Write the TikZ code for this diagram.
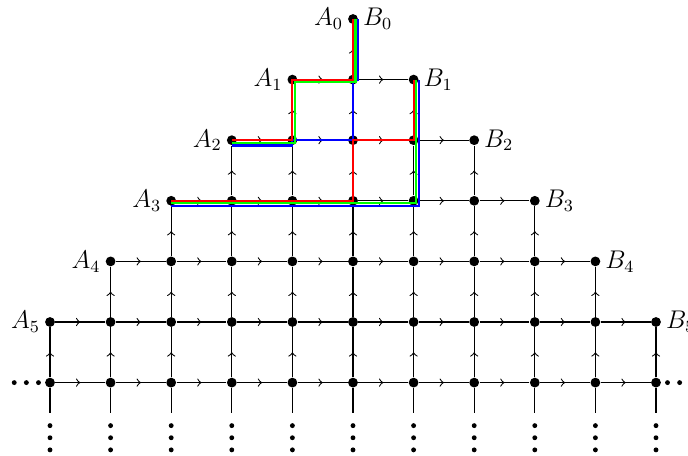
\documentclass[tikz,border=0pt]{standalone}
\usetikzlibrary{decorations.markings}
\begin{document}
\begin{tikzpicture}[
  midarrow/.style={postaction={decorate},decoration={markings,mark=at position 0.5 with {\arrow{>}}}},
  gridline/.style={line width=0.5pt},
  vdot/.style={circle,fill=black,inner sep=0pt,minimum size=4.6pt},
  sdot/.style={circle,fill=black,inner sep=0pt,minimum size=2.3pt},
  cpath/.style={line width=1pt,line join=miter},
  lab/.style={inner sep=0.2em,font=\large},
]
\useasboundingbox (-0.825,0.3135) rectangle (10.528,-7.195);
% vertices
\foreach \k in {0,...,5} {
  \pgfmathtruncatemacro\lo{5-\k}
  \pgfmathtruncatemacro\hi{5+\k}
  \foreach \i in {\lo,...,\hi} { \node[vdot] (v\i-\k) at (\i,-\k) {}; }
  \node[lab,anchor=east] (A\k) at (v\lo-\k.west) {$A_{\k}$};
  \node[lab,anchor=west] (B\k) at (v\hi-\k.east) {$B_{\k}$};
}
\foreach \i in {0,...,10} { \node[vdot] (v\i-6) at (\i,-6) {}; }
% horizontal edges
\foreach \k in {1,...,5} {
  \pgfmathtruncatemacro\lo{5-\k}
  \pgfmathtruncatemacro\hi{4+\k}
  \foreach \i in {\lo,...,\hi} {
    \pgfmathtruncatemacro\j{\i+1}
    \draw[gridline,midarrow] (v\i-\k) -- (v\j-\k);
  }
}
\foreach \i in {0,...,9} {
  \pgfmathtruncatemacro\j{\i+1}
  \draw[gridline,midarrow] (v\i-6) -- (v\j-6);
}
% vertical edges
\foreach \k in {0,...,5} {
  \pgfmathtruncatemacro\lo{5-\k}
  \pgfmathtruncatemacro\hi{5+\k}
  \pgfmathtruncatemacro\kk{\k+1}
  \foreach \i in {\lo,...,\hi} {
    \draw[gridline,midarrow] (v\i-\kk) -- (v\i-\k);
  }
}
% continuation below
\foreach \i in {0,...,10} {
  \coordinate (e\i) at (\i,-6.5);
  \draw[gridline] (v\i-6) -- (e\i);
  \node[sdot] (da\i) at (\i,-6.71) {};
  \node[sdot] (db\i) at (\i,-6.91) {};
  \node[sdot] (dc\i) at (\i,-7.11) {};
}
\node[sdot] (l1) at (-0.19,-6) {};
\node[sdot] (l2) at (-0.39,-6) {};
\node[sdot] (l3) at (-0.59,-6) {};
\node[sdot] (r1) at (10.19,-6) {};
\node[sdot] (r2) at (10.39,-6) {};
\node[sdot] (r3) at (10.59,-6) {};
% coloured path pairs
\def\g{1.2pt}
\def\b{2.5pt}
\draw[cpath,blue] ([yshift=-\b]v3-2.center) -- ([yshift=-\b]v4-2.center) -- (v4-2.center) -- (v5-2.center) -- (v5-1.center) -- ([xshift=\b]v5-1.center) -- ([xshift=\b]v5-0.center);
\draw[cpath,blue] ([yshift=-\b]v2-3.center) -- ([shift={(\b,-\b)}]v6-3.center) -- ([xshift=\b]v6-1.center);
\draw[cpath,green] ([yshift=-\g]v3-2.center) -- ([shift={(\g,-\g)}]v4-2.center) -- ([shift={(\g,-\g)}]v4-1.center) -- ([shift={(\g,-\g)}]v5-1.center) -- ([xshift=\g]v5-0.center);
\draw[cpath,green] ([yshift=-\g]v2-3.center) -- ([shift={(\g,-\g)}]v6-3.center) -- ([xshift=\g]v6-1.center);
\draw[cpath,red] (v3-2.center) -- (v4-2.center) -- (v4-1.center) -- (v5-1.center) -- (v5-0.center);
\draw[cpath,red] (v2-3.center) -- (v5-3.center) -- (v5-2.center) -- (v6-2.center) -- (v6-1.center);
\end{tikzpicture}
\end{document}
